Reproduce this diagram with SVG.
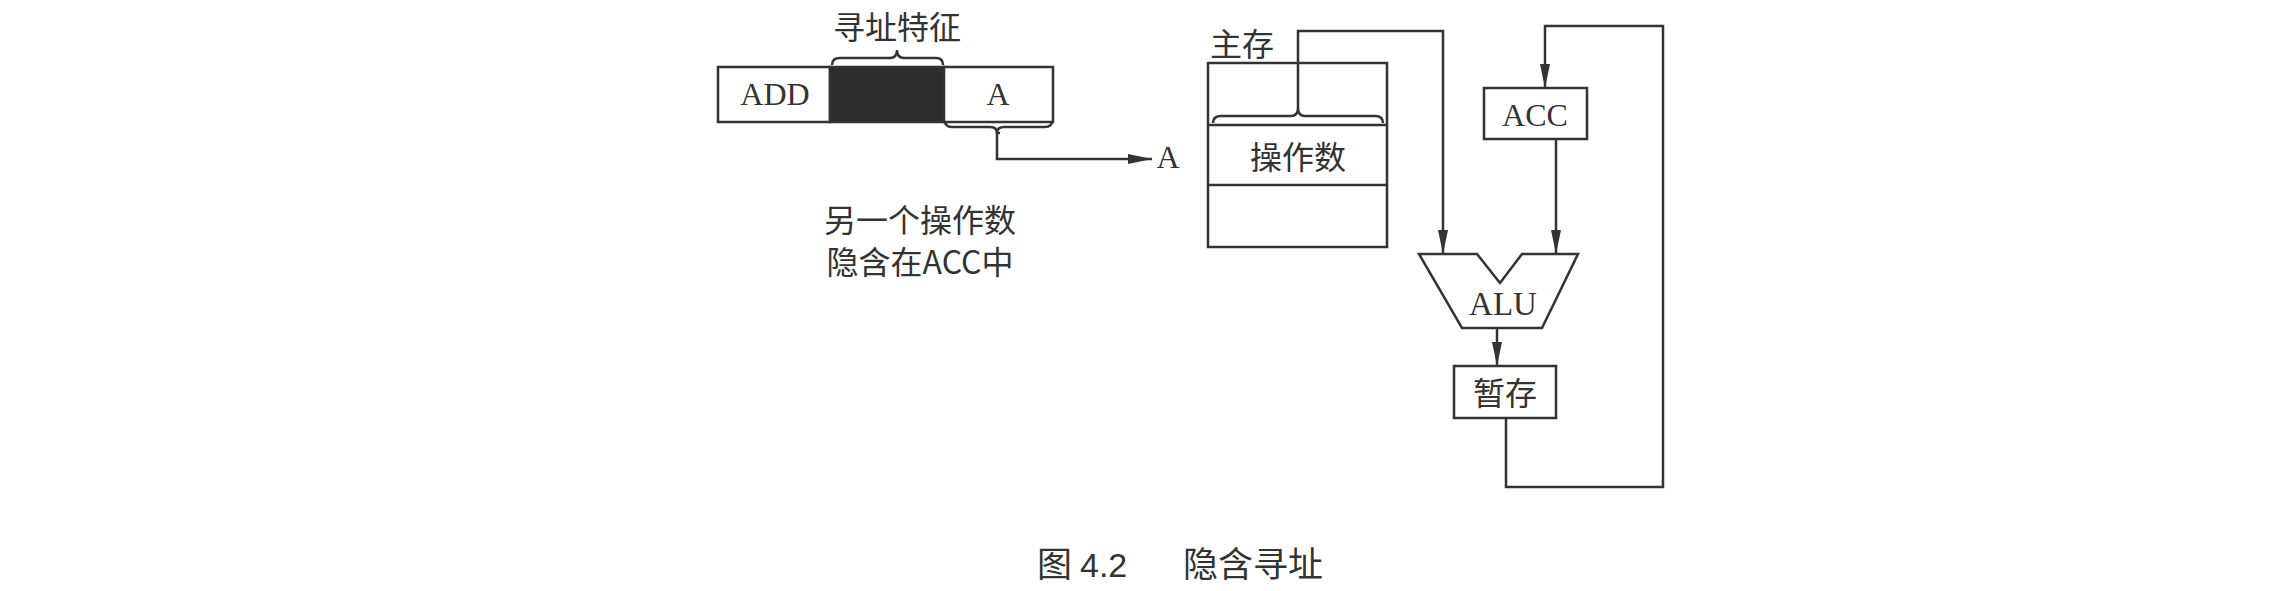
<svg xmlns="http://www.w3.org/2000/svg" width="2286" height="591" viewBox="0 0 2286 591">
<style>
.ln{fill:none;stroke:#333;stroke-width:2.5}
.bx{fill:#fff;stroke:#333;stroke-width:2.5}
.cn{font-family:"Noto Sans CJK SC","Noto Sans",sans-serif;fill:#333}
.lt{font-family:"Liberation Serif",serif;fill:#333}
</style>
<defs>
<marker id="ah" markerWidth="26" markerHeight="12" refX="24" refY="6" orient="auto" markerUnits="userSpaceOnUse">
<path d="M0,1 L24,6 L0,11 Z" fill="#333"/>
</marker>
</defs>
<rect width="2286" height="591" fill="#fff"/>

<g id="instruction">
<rect class="bx" x="718" y="67" width="112" height="55"/>
<rect x="830" y="67" width="114" height="55" fill="#2e2e2e" stroke="#333" stroke-width="2.5"/>
<rect class="bx" x="944" y="67" width="109" height="55"/>
<text class="lt" x="775" y="105" font-size="32" text-anchor="middle">ADD</text>
<text class="lt" x="998" y="105" font-size="32" text-anchor="middle">A</text>
<path class="ln" d="M832,65 Q832,58 840,58 L890,58 Q897,58 897,50 Q897,58 904,58 L936,58 Q943,58 943,65"/>
<text class="cn" x="897" y="39" font-size="32" text-anchor="middle">寻址特征</text>
</g>

<g id="note">
<text class="cn" x="920" y="232" font-size="32" text-anchor="middle">另一个操作数</text>
<text class="cn" x="920" y="274" font-size="32" text-anchor="middle">隐含在ACC中</text>
</g>

<g id="A-label">
<text class="lt" x="1168" y="168" font-size="32" text-anchor="middle">A</text>
</g>

<g id="memory">
<text class="cn" x="1242" y="56" font-size="32" text-anchor="middle">主存</text>
<rect class="bx" x="1208" y="63" width="179" height="184"/>
<line class="ln" x1="1208" y1="125" x2="1387" y2="125"/>
<line class="ln" x1="1208" y1="185" x2="1387" y2="185"/>
<text class="cn" x="1298" y="169" font-size="32" text-anchor="middle">操作数</text>
<path class="ln" d="M1213,123 Q1213,116 1221,116 L1291,116 Q1298,116 1298,108 Q1298,116 1305,116 L1375,116 Q1383,116 1383,123"/>
</g>

<g id="acc">
<rect class="bx" x="1484" y="88" width="103" height="51"/>
<text class="lt" x="1535" y="126" font-size="32" text-anchor="middle">ACC</text>
</g>

<g id="alu">
<path class="bx" d="M1419,254 L1477,254 L1500,283 L1522,254 L1578,254 L1542,328 L1462,328 Z"/>
<text class="lt" x="1503" y="315" font-size="33" text-anchor="middle">ALU</text>
</g>

<g id="temp">
<rect class="bx" x="1454" y="366" width="102" height="52"/>
<text class="cn" x="1505" y="405" font-size="32" text-anchor="middle">暂存</text>
</g>

<g id="connectors">
<path class="ln" d="M1000,133 L997,133 L997,159 L1152,159" marker-end="url(#ah)"/>
<path class="ln" d="M997,133 Q997,127 990,127 L952,127 Q945,127 945,121"/>
<path class="ln" d="M997,133 Q997,127 1004,127 L1045,127 Q1052,127 1052,121"/>
<path class="ln" d="M1298,108 L1298,31 L1443,31 L1443,254" marker-end="url(#ah)"/>
<path class="ln" d="M1556,139 L1556,254" marker-end="url(#ah)"/>
<path class="ln" d="M1497,328 L1497,366" marker-end="url(#ah)"/>
<path class="ln" d="M1506,418 L1506,487 L1663,487 L1663,26 L1545,26 L1545,88" marker-end="url(#ah)"/>
</g>

<g id="caption">
<text class="cn" x="1037" y="577" font-size="35">图</text>
<text x="1080" y="577" font-size="34" font-family="Liberation Sans,sans-serif" fill="#333">4.2</text>
<text class="cn" x="1183" y="577" font-size="35">隐含寻址</text>
</g>
</svg>
